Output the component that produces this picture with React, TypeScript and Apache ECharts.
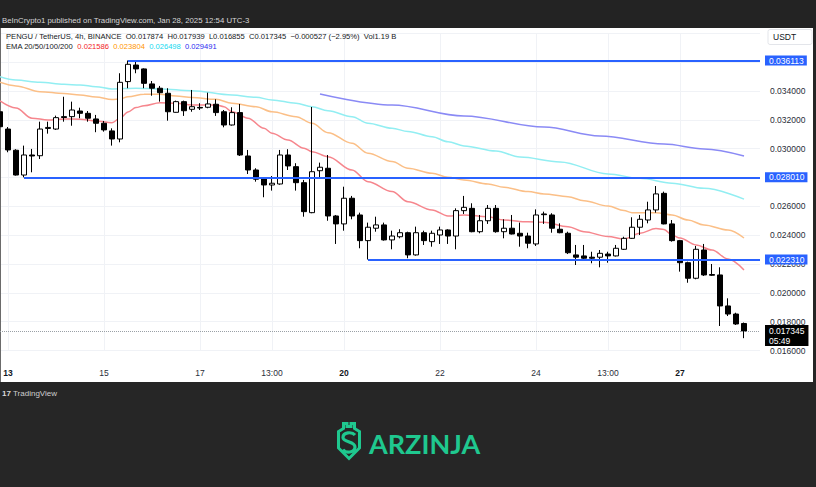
import React, { useEffect, useRef } from "react";
import * as echarts from "echarts";

// ---------- data ----------
const firstCandleUTC = Date.UTC(2025, 0, 12, 21, 0); // chart time (UTC-3) of first slot
const slotCount = 96;
const categories: string[] = [];
for (let k = 0; k < slotCount; k++) {
  const d = new Date(firstCandleUTC + k * 4 * 3600 * 1000);
  const pad = (n: number) => String(n).padStart(2, "0");
  categories.push(`${d.getUTCFullYear()}-${pad(d.getUTCMonth() + 1)}-${pad(d.getUTCDate())} ${pad(d.getUTCHours())}:00`);
}

const tickTimes = [
  "2025-01-13 01:00", "2025-01-15 01:00", "2025-01-17 01:00", "2025-01-18 13:00",
  "2025-01-20 01:00", "2025-01-22 01:00", "2025-01-24 01:00", "2025-01-25 13:00", "2025-01-27 01:00",
];
const tickTexts = ["13", "15", "17", "13:00", "20", "22", "24", "13:00", "27"];
const tickBold = [true, false, false, false, true, false, false, false, true];

// [open, close, low, high]
const candles: number[][] = [
  [0.03256, 0.03152, 0.03143, 0.03282],
  [0.03136, 0.02991, 0.02975, 0.0315],
  [0.02989, 0.02817, 0.02813, 0.02996],
  [0.02817, 0.02956, 0.02801, 0.03021],
  [0.02956, 0.02949, 0.02836, 0.02998],
  [0.02951, 0.03136, 0.02928, 0.03187],
  [0.0314, 0.03147, 0.03104, 0.03187],
  [0.03136, 0.03215, 0.0313, 0.03229],
  [0.03222, 0.03216, 0.03187, 0.0336],
  [0.03222, 0.03268, 0.03159, 0.03326],
  [0.03261, 0.03245, 0.03211, 0.03284],
  [0.03245, 0.03211, 0.03187, 0.03261],
  [0.03206, 0.03176, 0.03114, 0.03234],
  [0.03176, 0.0313, 0.03118, 0.03192],
  [0.03123, 0.03067, 0.03021, 0.03141],
  [0.03067, 0.0346, 0.03044, 0.03523],
  [0.03465, 0.03585, 0.03419, 0.036113],
  [0.0358, 0.03553, 0.03523, 0.03603],
  [0.03553, 0.03453, 0.03419, 0.03557],
  [0.03449, 0.03419, 0.03367, 0.03469],
  [0.03419, 0.03388, 0.03326, 0.03435],
  [0.03384, 0.03256, 0.03194, 0.03419],
  [0.03252, 0.03326, 0.0325, 0.03333],
  [0.03326, 0.03263, 0.03227, 0.03333],
  [0.03273, 0.03291, 0.03256, 0.03407],
  [0.03286, 0.03282, 0.03268, 0.03315],
  [0.03287, 0.0331, 0.0328, 0.03388],
  [0.03308, 0.0325, 0.03227, 0.03342],
  [0.03256, 0.03164, 0.03148, 0.03268],
  [0.03164, 0.0325, 0.0316, 0.03287],
  [0.0325, 0.02956, 0.02949, 0.0331],
  [0.02949, 0.02852, 0.02824, 0.02991],
  [0.02852, 0.02788, 0.02771, 0.02864],
  [0.02792, 0.02748, 0.02663, 0.02801],
  [0.02748, 0.0276, 0.02709, 0.0281],
  [0.02755, 0.02956, 0.0275, 0.02991],
  [0.02956, 0.0288, 0.02852, 0.02996],
  [0.02875, 0.02764, 0.02709, 0.02899],
  [0.02764, 0.02563, 0.02528, 0.02783],
  [0.02556, 0.0284, 0.02552, 0.03289],
  [0.02847, 0.02871, 0.02801, 0.02903],
  [0.02864, 0.02533, 0.025, 0.02956],
  [0.02533, 0.02478, 0.02339, 0.0254],
  [0.02478, 0.02656, 0.02431, 0.02736],
  [0.02656, 0.02533, 0.0251, 0.02672],
  [0.0254, 0.02362, 0.02309, 0.02556],
  [0.02362, 0.02455, 0.02231, 0.02487],
  [0.02448, 0.02471, 0.02424, 0.02528],
  [0.02471, 0.02367, 0.02362, 0.02487],
  [0.02367, 0.02394, 0.02302, 0.02431],
  [0.02389, 0.02417, 0.02378, 0.02441],
  [0.02417, 0.02263, 0.0224, 0.02424],
  [0.02263, 0.02417, 0.02258, 0.02459],
  [0.02417, 0.02362, 0.02332, 0.02431],
  [0.02355, 0.02413, 0.0232, 0.02431],
  [0.02401, 0.02436, 0.02339, 0.02459],
  [0.02436, 0.02394, 0.02339, 0.02441],
  [0.02394, 0.0257, 0.02302, 0.02586],
  [0.0257, 0.02593, 0.02547, 0.02672],
  [0.02586, 0.02424, 0.0242, 0.02621],
  [0.02424, 0.025, 0.02413, 0.0254],
  [0.025, 0.02586, 0.02478, 0.02609],
  [0.02586, 0.02424, 0.02417, 0.02609],
  [0.02424, 0.02448, 0.02378, 0.0251],
  [0.02448, 0.02408, 0.02405, 0.0254],
  [0.02413, 0.02394, 0.0232, 0.02487],
  [0.02394, 0.02344, 0.02309, 0.02417],
  [0.02339, 0.0254, 0.02325, 0.02579],
  [0.02547, 0.02542, 0.02478, 0.02563],
  [0.0254, 0.02448, 0.02417, 0.02552],
  [0.02441, 0.02417, 0.02413, 0.02482],
  [0.02413, 0.02278, 0.02269, 0.02424],
  [0.02263, 0.02247, 0.02193, 0.02332],
  [0.02256, 0.0224, 0.02228, 0.02332],
  [0.02247, 0.0224, 0.02205, 0.02285],
  [0.02247, 0.02274, 0.02177, 0.02297],
  [0.02269, 0.02256, 0.02209, 0.02285],
  [0.02256, 0.02309, 0.02252, 0.02332],
  [0.02302, 0.02378, 0.02297, 0.02389],
  [0.02378, 0.02455, 0.02374, 0.02524],
  [0.02455, 0.0251, 0.02401, 0.0254],
  [0.02505, 0.02575, 0.02482, 0.02632],
  [0.02575, 0.02686, 0.02556, 0.02741],
  [0.0269, 0.02478, 0.02475, 0.02702],
  [0.02478, 0.02362, 0.02355, 0.02505],
  [0.02362, 0.02209, 0.02147, 0.02367],
  [0.02209, 0.02101, 0.0207, 0.02216],
  [0.02101, 0.02302, 0.02094, 0.02325],
  [0.02297, 0.02124, 0.02117, 0.02339],
  [0.02127, 0.02122, 0.02117, 0.022],
  [0.02124, 0.01909, 0.0177, 0.02177],
  [0.01909, 0.01853, 0.01839, 0.01962],
  [0.01853, 0.01784, 0.01777, 0.01862],
  [0.017874, 0.017345, 0.016855, 0.017939],
];

// EMA readings: [candle index, value]
const ema20: number[][] = [
  [0, 0.03331], [2, 0.03282], [4, 0.03211], [6, 0.03199], [8, 0.03206], [10, 0.03204], [12, 0.03192],
  [14, 0.0318], [15, 0.0321], [16, 0.03255], [17, 0.03285], [18, 0.03298], [20, 0.03319], [22, 0.03315],
  [24, 0.03303], [27, 0.03303], [28, 0.03291], [29, 0.03256], [31, 0.03211], [33, 0.03141], [34, 0.03107],
  [36, 0.0306], [38, 0.03003], [39, 0.02979], [41, 0.02944], [44, 0.02852], [46, 0.02771], [49, 0.02702],
  [51, 0.02632], [54, 0.02575], [56, 0.02533], [58, 0.0254], [61, 0.02528], [63, 0.02505], [66, 0.02493],
  [68, 0.0249], [71, 0.02459], [73, 0.02424], [76, 0.0239], [78, 0.02373], [80, 0.02413], [82, 0.02446],
  [83, 0.0244], [84, 0.02401], [85, 0.0238], [87, 0.02332], [89, 0.02297], [91, 0.02235], [93, 0.021586],
];
const ema50: number[][] = [
  [0, 0.0346], [2, 0.03435], [5, 0.03395], [8, 0.03383], [10, 0.03372], [12, 0.03358], [14, 0.03341],
  [15, 0.03345], [16, 0.0336], [18, 0.03377], [20, 0.03378], [22, 0.03365], [24, 0.03354], [27, 0.03342],
  [29, 0.03315], [32, 0.03291], [34, 0.03256], [37, 0.03222], [39, 0.03176], [41, 0.03111], [44, 0.03037],
  [46, 0.02968], [49, 0.0291], [51, 0.02864], [54, 0.02829], [56, 0.02801], [58, 0.02783], [61, 0.02755],
  [63, 0.02732], [66, 0.02702], [68, 0.02686], [71, 0.02667], [73, 0.02639], [76, 0.02602], [78, 0.02571],
  [79, 0.02556], [82, 0.02556], [84, 0.0254], [86, 0.02505], [88, 0.02471], [91, 0.02436], [93, 0.023804],
];
const ema100: number[][] = [
  [0, 0.03499], [2, 0.03476], [5, 0.0346], [8, 0.03446], [10, 0.03442], [12, 0.0343], [14, 0.03414],
  [17, 0.03419], [20, 0.03414], [24, 0.03402], [29, 0.03372], [32, 0.03356], [34, 0.03338], [37, 0.03315],
  [39, 0.03291], [41, 0.03263], [44, 0.03222], [46, 0.03176], [49, 0.03141], [51, 0.03119], [54, 0.03083],
  [56, 0.03048], [58, 0.03019], [62, 0.02984], [65, 0.02942], [70, 0.02908], [76, 0.02825], [80, 0.02794],
  [84, 0.0276], [88, 0.02725], [93, 0.026498],
];
const ema200: number[][] = [
  [40, 0.03379], [49, 0.03303], [58, 0.03227], [68, 0.0315], [75, 0.03088], [83, 0.03032], [88, 0.02998],
  [93, 0.029491],
];

const levelPrices = [0.036113, 0.02801, 0.02231];
const levelStartCandles = [16, 3, 46];
const lastPrice = 0.017345;
const countdown = "05:49";
const priceChange = "\u22120.000527 (\u22122.95%)";
const volume = "Vol1.19 B";

const emaColors = ["#f6868d", "#fbbf87", "#92eef2", "#8a8af5"];
const emaTextColors = ["#f21d1d", "#ff9500", "#12d9f0", "#2b2bf0"];

const SHIELD_S = "M18,13 C15,9.5 6,10 6,15.5 C6,20.5 18,19 18,25 C18,31 8.5,31.5 6,27.5";
echarts.graphic.registerShape("arzS", echarts.graphic.extendPath(SHIELD_S, {}) as any);

export default function App() {
  const ref = useRef<HTMLDivElement>(null);

  useEffect(() => {
    if (!ref.current) return;
    const chart = echarts.init(ref.current, null, { renderer: "svg" });
    const font = '"Liberation Sans", Arial, sans-serif';
    const last = candles[candles.length - 1];
    const tickMap: Record<string, number> = {};
    tickTimes.forEach((t, k) => (tickMap[t] = k));
    const endCat = categories[categories.length - 1];
    const green = "#1fc88f";

    const lineSeries = [ema20, ema50, ema100, ema200].map((d, k) => ({
      type: "line",
      data: d,
      symbol: "none",
      smooth: 0.35,
      smoothMonotone: "x",
      z: 1,
      lineStyle: { color: emaColors[k], width: 1.5 },
      silent: true,
    }));

    chart.setOption({
      animation: false,
      backgroundColor: "#ffffff",
      grid: { left: 0, right: 56, top: 33.3, bottom: 136.5, containLabel: false },
      xAxis: {
        type: "category",
        data: categories,
        boundaryGap: false,
        axisLine: { show: false },
        axisTick: { show: false },
        axisLabel: {
          interval: (_i: number, v: string) => v in tickMap,
          formatter: (v: string) => {
            const k = tickMap[v];
            if (k === undefined) return "";
            return tickBold[k] ? `{b|${tickTexts[k]}}` : tickTexts[k];
          },
          margin: 18,
          fontSize: 8.5,
          fontFamily: font,
          color: "#2a2e39",
          rich: { b: { fontWeight: "bold", fontSize: 8.5, fontFamily: font, color: "#131722" } },
        },
        splitLine: {
          show: true,
          interval: (_i: number, v: string) => v in tickMap,
          lineStyle: { color: "#f0f2f6", width: 1 },
        },
      },
      yAxis: {
        type: "value",
        position: "right",
        min: 0.016,
        max: 0.038,
        interval: 0.002,
        axisLine: { show: false },
        axisTick: { show: false },
        axisLabel: {
          margin: 10,
          fontSize: 8.5,
          fontFamily: font,
          color: "#2a2e39",
          align: "left",
          formatter: (v: number) => (v > 0.0355 ? "" : v.toFixed(6)),
        },
        splitLine: { lineStyle: { color: "#f0f2f6", width: 1 } },
      },
      series: [
        ...lineSeries,
        {
          type: "candlestick",
          data: candles,
          barWidth: 5,
          z: 3,
          itemStyle: {
            color: "#ffffff",
            color0: "#000000",
            borderColor: "#000000",
            borderColor0: "#000000",
            borderWidth: 1,
          },
          markLine: {
            silent: true,
            precision: 6,
            symbol: ["none", "none"],
            lineStyle: { color: "#2962ff", width: 2, type: "solid" },
            label: {
              show: true,
              position: "end",
              distance: 5,
              formatter: "{b}",
              backgroundColor: "#2962ff",
              color: "#ffffff",
              fontSize: 8.5,
              fontFamily: font,
              padding: [1, 3, 0, 4],
            },
            data: [
              ...levelPrices.map((p, k) => [
                { name: p.toFixed(6), coord: [categories[levelStartCandles[k]], p] },
                { name: p.toFixed(6), coord: [endCat, p] },
              ]),
              {
                name: lastPrice.toFixed(6),
                yAxis: lastPrice,
                lineStyle: { color: "#9aa0a6", width: 1, type: "dotted" },
                label: { show: false },
              },
            ],
          },
        },
      ],
    });

    // position of the last-price tag
    const lastY = chart.convertToPixel({ yAxisIndex: 0 }, lastPrice) as number;

    chart.setOption({
      graphic: [
        { type: "rect", shape: { x: 0, y: 0, width: 816, height: 28 }, style: { fill: "#232323" }, silent: true },
        { type: "rect", shape: { x: 0, y: 382, width: 816, height: 105 }, style: { fill: "#262626" }, silent: true },
        { type: "rect", shape: { x: 813, y: 28, width: 3, height: 354 }, style: { fill: "#262626" }, silent: true },
        { type: "rect", shape: { x: 0, y: 28, width: 1, height: 354 }, style: { fill: "#6b6b6b" }, silent: true },
        {
          type: "text",
          x: 765,
          y: lastY - 6,
          z: 100,
          style: {
            text: `${lastPrice.toFixed(6)}\n${countdown}`,
            fill: "#ffffff",
            backgroundColor: "#000000",
            font: `8.5px ${font}`,
            lineHeight: 10,
            padding: [1, 4, 0, 4],
            verticalAlign: "top",
          },
        },
        {
          type: "text",
          x: 2,
          y: 20,
          style: {
            text: "BeInCrypto1 published on TradingView.com, Jan 28, 2025 12:54 UTC-3",
            fill: "#d6d6d6",
            font: `7.8px ${font}`,
            verticalAlign: "middle",
          },
        },
        {
          type: "text",
          x: 6,
          y: 36.5,
          style: {
            text: `PENGU / TetherUS, 4h, BINANCE  O${last[0].toFixed(6)}  H${last[3].toFixed(6)}  L${last[2].toFixed(6)}  C${last[1].toFixed(6)}  ${priceChange}  ${volume}`,
            fill: "#131722",
            font: `7.6px ${font}`,
            verticalAlign: "middle",
          },
        },
        {
          type: "text",
          x: 6,
          y: 46.5,
          style: {
            text:
              "EMA 20/50/100/200  " +
              [ema20, ema50, ema100, ema200]
                .map((d, k) => `{c${k}|${d[d.length - 1][1].toFixed(6)}}`)
                .join("  "),
            fill: "#131722",
            font: `7.6px ${font}`,
            verticalAlign: "middle",
            rich: {
              c0: { fill: emaTextColors[0], font: `7.6px ${font}` },
              c1: { fill: emaTextColors[1], font: `7.6px ${font}` },
              c2: { fill: emaTextColors[2], font: `7.6px ${font}` },
              c3: { fill: emaTextColors[3], font: `7.6px ${font}` },
            },
          },
        },
        {
          type: "rect",
          shape: { x: 768, y: 29.5, width: 44, height: 15, r: 2 },
          style: { fill: "#ffffff", stroke: "#e3e5ea", lineWidth: 1 },
          silent: true,
        },
        {
          type: "text",
          x: 773,
          y: 37,
          style: { text: "USDT", fill: "#131722", font: `8.5px ${font}`, verticalAlign: "middle" },
        },
        {
          type: "text",
          x: 2,
          y: 393,
          style: { text: "17", fill: "#d8d8d8", font: `bold 8px ${font}`, verticalAlign: "middle" },
        },
        {
          type: "text",
          x: 13,
          y: 393,
          style: { text: "TradingView", fill: "#cfcfcf", font: `8px ${font}`, verticalAlign: "middle" },
        },
        {
          type: "polygon",
          x: 337,
          y: 422,
          shape: {
            points: [
              [6.5, 1.5], [10, 1.5], [10, 4.5], [14, 4.5], [14, 1.5], [17.5, 1.5], [17.5, 6.5], [22.5, 9.5],
              [22.5, 26], [12, 36.5], [1.5, 26], [1.5, 9.5], [6.5, 6.5],
            ],
          },
          style: { fill: "none", stroke: green, lineWidth: 3, lineJoin: "miter" },
          silent: true,
        },
        {
          type: "arzS",
          x: 337,
          y: 422,
          style: { fill: "none", stroke: green, lineWidth: 3.2, lineCap: "butt" },
          silent: true,
        },
        {
          type: "text",
          x: 369,
          y: 443,
          style: {
            text: "ARZINJA",
            fill: green,
            font: `bold 27px Lato, "Open Sans", sans-serif`,
            verticalAlign: "middle",
          },
        },
      ],
    });

    return () => chart.dispose();
  }, []);

  return <div ref={ref} style={{ position: "fixed", left: 0, top: 0, width: 816, height: 487 }} />;
}
